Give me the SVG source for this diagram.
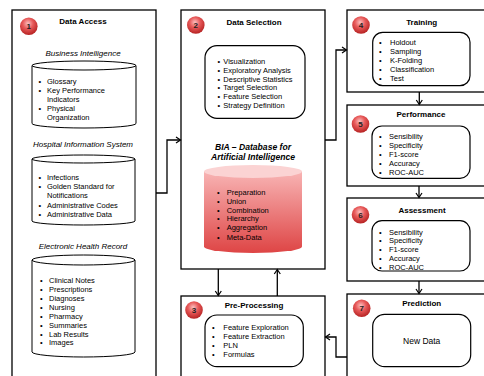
<svg xmlns="http://www.w3.org/2000/svg" width="484" height="376" viewBox="0 0 484 376">
<defs>
<radialGradient id="badge" cx="45%" cy="35%" r="65%">
<stop offset="0" stop-color="#fbc0c0"/>
<stop offset="0.45" stop-color="#e85a5a"/>
<stop offset="1" stop-color="#b62222"/>
</radialGradient>
<linearGradient id="cylBody" x1="0" y1="0" x2="0" y2="1">
<stop offset="0" stop-color="#f8b4b4"/>
<stop offset="1" stop-color="#de4545"/>
</linearGradient>
<marker id="arr" markerWidth="8" markerHeight="8" refX="6" refY="4" orient="auto" markerUnits="userSpaceOnUse">
<path d="M1.5,1 L6,4 L1.5,7" fill="none" stroke="#000" stroke-width="1.2"/>
</marker>
</defs>
<style>
.box{fill:#fff;stroke:#000;stroke-width:1.3}
.rbox{fill:#fff;stroke:#000;stroke-width:1.2}
.cyl{fill:#fff;stroke:#000;stroke-width:1}
.title{font-family:"Liberation Sans",Arial,sans-serif;font-size:8px;font-weight:bold;text-anchor:middle;fill:#000}
.sub{font-family:"Liberation Sans",Arial,sans-serif;font-size:8px;font-style:italic;text-anchor:middle;fill:#000}
.bia{font-family:"Liberation Sans",Arial,sans-serif;font-size:8.6px;font-style:italic;font-weight:bold;text-anchor:middle;fill:#000}
.li{font-family:"Liberation Sans",Arial,sans-serif;font-size:7.5px;fill:#000}
.nd{font-family:"Liberation Sans",Arial,sans-serif;font-size:8.5px;text-anchor:middle;fill:#000}
.num{font-family:"Liberation Sans",Arial,sans-serif;font-size:8px;font-weight:bold;text-anchor:middle;fill:#222}
.badge{fill:url(#badge)}
.conn{fill:none;stroke:#000;stroke-width:1.3}
</style>
<rect width="484" height="376" fill="#fff"/>

<g id="node1">
<rect class="box" x="12" y="10" width="144" height="380"/>
<circle class="badge" cx="28.8" cy="26.2" r="8.8"/>
<text class="num" x="28.8" y="29">1</text>
<text class="title" x="83" y="23.5">Data Access</text>
<text class="sub" x="83" y="56">Business Intelligence</text>
<path class="cyl" d="M32,65.5 V123.5 A52,4.5 0 0 0 136,123.5 V65.5 A52,4.5 0 0 0 32,65.5 A52,4.5 0 0 0 136,65.5"/>
<g class="li">
<text x="38.5" y="83.7">•</text><text x="47" y="83.7">Glossary</text>
<text x="38.5" y="92.7">•</text><text x="47" y="92.7">Key Performance</text>
<text x="47" y="101.7">Indicators</text>
<text x="38.5" y="110.5">•</text><text x="47" y="110.5">Physical</text>
<text x="47" y="119.5">Organization</text>
</g>
<text class="sub" x="83" y="147">Hospital Information System</text>
<path class="cyl" d="M32,159 V221 A51.5,4 0 0 0 135,221 V159 A51.5,4 0 0 0 32,159 A51.5,4 0 0 0 135,159"/>
<g class="li">
<text x="38.5" y="180.4">•</text><text x="47" y="180.4">Infections</text>
<text x="38.5" y="189.4">•</text><text x="47" y="189.4">Golden Standard for</text>
<text x="47" y="198.4">Notifications</text>
<text x="38.5" y="207.6">•</text><text x="47" y="207.6">Administrative Codes</text>
<text x="38.5" y="216.7">•</text><text x="47" y="216.7">Administrative Data</text>
</g>
<text class="sub" x="83" y="248.5">Electronic Health Record</text>
<path class="cyl" d="M32,260 V352 A51.5,5 0 0 0 135,352 V260 A51.5,5 0 0 0 32,260 A51.5,5 0 0 0 135,260"/>
<g class="li">
<text x="40" y="283.4">•</text><text x="49" y="283.4">Clinical Notes</text>
<text x="40" y="292.1">•</text><text x="49" y="292.1">Prescriptions</text>
<text x="40" y="301">•</text><text x="49" y="301">Diagnoses</text>
<text x="40" y="310">•</text><text x="49" y="310">Nursing</text>
<text x="40" y="318.8">•</text><text x="49" y="318.8">Pharmacy</text>
<text x="40" y="327.7">•</text><text x="49" y="327.7">Summaries</text>
<text x="40" y="336.7">•</text><text x="49" y="336.7">Lab Results</text>
<text x="40" y="345.4">•</text><text x="49" y="345.4">Images</text>
</g>
</g>

<g id="node2">
<rect class="box" x="181" y="10" width="144" height="259"/>
<circle class="badge" cx="195.8" cy="25" r="8.8"/>
<text class="num" x="195.8" y="27.8">2</text>
<text class="title" x="254" y="24.5">Data Selection</text>
<rect class="rbox" x="205" y="45.7" width="100" height="72.6" rx="12"/>
<g class="li">
<text x="217.5" y="63.7">•</text><text x="223.3" y="63.7">Visualization</text>
<text x="217.5" y="72.7">•</text><text x="223.3" y="72.7">Exploratory Analysis</text>
<text x="217.5" y="81.7">•</text><text x="223.3" y="81.7">Descriptive Statistics</text>
<text x="217.5" y="90">•</text><text x="223.3" y="90">Target Selection</text>
<text x="217.5" y="99.4">•</text><text x="223.3" y="99.4">Feature Selection</text>
<text x="217.5" y="108">•</text><text x="223.3" y="108">Strategy Definition</text>
</g>
<text class="bia" x="253" y="149.7">BIA – Database for</text>
<text class="bia" x="253" y="159.7">Artificial Intelligence</text>
<path d="M204,171.5 V246.5 A49,6.5 0 0 0 302,246.5 V171.5 Z" fill="url(#cylBody)"/>
<ellipse cx="253" cy="171.5" rx="49" ry="6.5" fill="#fbd3d3"/>
<g class="li">
<text x="217" y="195.4">•</text><text x="226.7" y="195.4">Preparation</text>
<text x="217" y="204">•</text><text x="226.7" y="204">Union</text>
<text x="217" y="212.7">•</text><text x="226.7" y="212.7">Combination</text>
<text x="217" y="221.4">•</text><text x="226.7" y="221.4">Hierarchy</text>
<text x="217" y="230">•</text><text x="226.7" y="230">Aggregation</text>
<text x="217" y="239.6">•</text><text x="226.7" y="239.6">Meta-Data</text>
</g>
</g>

<g id="node3">
<rect class="box" x="181" y="296" width="144" height="100"/>
<circle class="badge" cx="194" cy="310" r="8.8"/>
<text class="num" x="194" y="312.8">3</text>
<text class="title" x="254" y="308">Pre-Processing</text>
<rect class="rbox" x="205" y="315" width="98.3" height="51.7" rx="12"/>
<g class="li">
<text x="212" y="330.4">•</text><text x="223.3" y="330.4">Feature Exploration</text>
<text x="212" y="339">•</text><text x="223.3" y="339">Feature Extraction</text>
<text x="212" y="347.7">•</text><text x="223.3" y="347.7">PLN</text>
<text x="212" y="357">•</text><text x="223.3" y="357">Formulas</text>
</g>
</g>

<g id="node4">
<rect class="box" x="347" y="10" width="150" height="82"/>
<circle class="badge" cx="361" cy="25" r="8.8"/>
<text class="num" x="361" y="27.8">4</text>
<text class="title" x="421.7" y="24.5">Training</text>
<rect class="rbox" x="372.7" y="32.3" width="97.3" height="53.4" rx="10"/>
<g class="li">
<text x="379" y="45.4">•</text><text x="390" y="45.4">Holdout</text>
<text x="379" y="54.4">•</text><text x="390" y="54.4">Sampling</text>
<text x="379" y="63.4">•</text><text x="390" y="63.4">K-Folding</text>
<text x="379" y="72">•</text><text x="390" y="72">Classification</text>
<text x="379" y="81">•</text><text x="390" y="81">Test</text>
</g>
</g>

<g id="node5">
<rect class="box" x="347" y="105" width="150" height="81"/>
<circle class="badge" cx="360.5" cy="124" r="8.8"/>
<text class="num" x="360.5" y="126.8">5</text>
<text class="title" x="421" y="117">Performance</text>
<rect class="rbox" x="372" y="126" width="98" height="52.3" rx="10"/>
<g class="li">
<text x="379" y="138.7">•</text><text x="389" y="138.7">Sensibility</text>
<text x="379" y="147.7">•</text><text x="389" y="147.7">Specificity</text>
<text x="379" y="156.7">•</text><text x="389" y="156.7">F1-score</text>
<text x="379" y="166">•</text><text x="389" y="166">Accuracy</text>
<text x="379" y="174.7">•</text><text x="389" y="174.7">ROC-AUC</text>
</g>
</g>

<g id="node6">
<rect class="box" x="347" y="198" width="150" height="83"/>
<circle class="badge" cx="360.5" cy="214.7" r="8.8"/>
<text class="num" x="360.5" y="217.5">6</text>
<text class="title" x="422" y="213">Assessment</text>
<rect class="rbox" x="372" y="220.7" width="98" height="50.3" rx="10"/>
<g class="li">
<text x="379" y="235.4">•</text><text x="389" y="235.4">Sensibility</text>
<text x="379" y="243.4">•</text><text x="389" y="243.4">Specificity</text>
<text x="379" y="252">•</text><text x="389" y="252">F1-score</text>
<text x="379" y="261">•</text><text x="389" y="261">Accuracy</text>
<text x="379" y="270">•</text><text x="389" y="270">ROC-AUC</text>
</g>
</g>

<g id="node7">
<rect class="box" x="347" y="294" width="150" height="100"/>
<circle class="badge" cx="361.7" cy="308.3" r="8.8"/>
<text class="num" x="361.7" y="311.1">7</text>
<text class="title" x="421.7" y="306">Prediction</text>
<rect class="rbox" x="372.7" y="314.3" width="98" height="52.4" rx="12"/>
<text class="nd" x="421.7" y="344">New Data</text>
</g>

<g id="connectors">
<path class="conn" d="M156,193 H167 V140 H180.5" marker-end="url(#arr)"/>
<path class="conn" d="M325,140 H336 V50 H346.5" marker-end="url(#arr)"/>
<path class="conn" d="M218.3,269 V295.5" marker-end="url(#arr)"/>
<path class="conn" d="M277.3,296 V269.5" marker-end="url(#arr)"/>
<path class="conn" d="M419.3,92 V104.5" marker-end="url(#arr)"/>
<path class="conn" d="M419,186 V197.5" marker-end="url(#arr)"/>
<path class="conn" d="M419,281 V293.5" marker-end="url(#arr)"/>
<path class="conn" d="M347,357 H336 V337 H325.5" marker-end="url(#arr)"/>
</g>
</svg>
